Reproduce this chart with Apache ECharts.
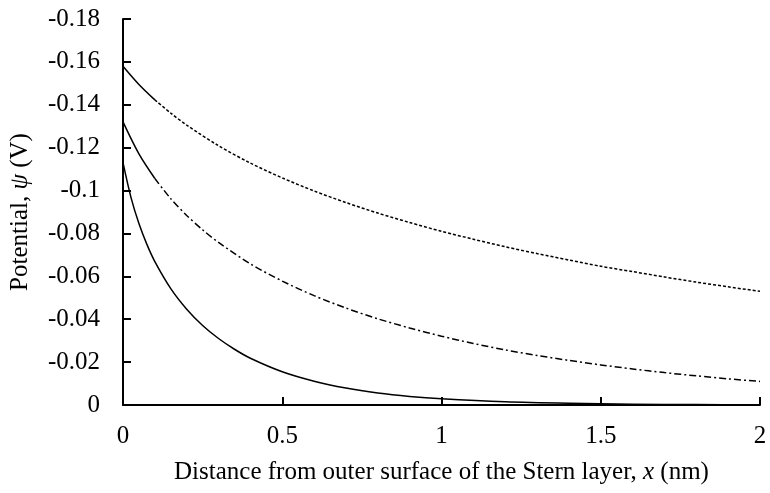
<!DOCTYPE html>
<html>
<head>
<meta charset="utf-8">
<script src="https://cdn.jsdelivr.net/npm/echarts@6/dist/echarts.min.js"></script>
<style>
  html, body { margin: 0; padding: 0; background: #fff; }
  #chart { width: 770px; height: 493px; }
</style>
</head>
<body>
<div id="chart"></div>
<script>
// Distance from the outer surface of the Stern layer (nm)
const xTop = [0, 0.05, 0.1, 0.15, 0.2, 0.3, 0.4, 0.5, 0.6, 0.7, 0.8, 0.9, 1.0, 1.1, 1.2, 1.3, 1.4, 1.5, 1.6, 1.7, 1.8, 1.9, 2.0];
// Potential (V), highest surface potential
const psiTop = [-0.158, -0.1495, -0.1423, -0.1361, -0.1305, -0.1209, -0.1128, -0.1059, -0.0998, -0.0944, -0.0895, -0.0851, -0.0810, -0.0773, -0.0738, -0.0706, -0.0676, -0.0647, -0.0622, -0.0597, -0.0573, -0.0551, -0.0530];

const xMid = [0, 0.05, 0.1, 0.15, 0.2, 0.25, 0.3, 0.4, 0.5, 0.6, 0.7, 0.8, 0.9, 1.0, 1.1, 1.2, 1.3, 1.4, 1.5, 1.6, 1.7, 1.8, 1.9, 2.0];
// Potential (V), intermediate surface potential
const psiMid = [-0.132, -0.1171, -0.1056, -0.0962, -0.0884, -0.0817, -0.0758, -0.0658, -0.0578, -0.0510, -0.0452, -0.0402, -0.0359, -0.0321, -0.0287, -0.0257, -0.0231, -0.0208, -0.0187, -0.0168, -0.0151, -0.0136, -0.0122, -0.0110];

const xLow = [0, 0.025, 0.05, 0.075, 0.1, 0.15, 0.2, 0.25, 0.3, 0.35, 0.4, 0.5, 0.6, 0.7, 0.8, 0.9, 1.0, 1.2, 1.4, 1.6, 1.8, 2.0];
// Potential (V), lowest surface potential
const psiLow = [-0.113, -0.0968, -0.0846, -0.0749, -0.0669, -0.0543, -0.0447, -0.0371, -0.0310, -0.0260, -0.0218, -0.0155, -0.0111, -0.0079, -0.0056, -0.0040, -0.0029, -0.0015, -0.0008, -0.0004, -0.0002, -0.0001];

const xTicks = [0, 0.5, 1, 1.5, 2];
const yTicks = [0, -0.02, -0.04, -0.06, -0.08, -0.1, -0.12, -0.14, -0.16, -0.18];

const FONT = '"Liberation Serif", "Times New Roman", serif';
const FS = 25;

function pairs(xs, ys) { return xs.map((x, i) => [x, ys[i]]); }
// The curves are drawn solid close to the surface, patterned further out.
function head(xs, ys, xEnd) { return pairs(xs, ys).filter(p => p[0] <= xEnd); }
function tail(xs, ys, xStart) { return pairs(xs, ys).filter(p => p[0] >= xStart); }

const lineBase = { type: 'line', showSymbol: false, symbol: 'none', smooth: 0.3, animation: false, silent: true };

const chart = echarts.init(document.getElementById('chart'), null, { renderer: 'canvas' });
chart.setOption({
  backgroundColor: '#ffffff',
  grid: { left: 123, right: 10, top: 19, bottom: 88, containLabel: false },
  xAxis: {
    type: 'value',
    min: xTicks[0], max: xTicks[xTicks.length - 1], interval: 0.5,
    name: 'Distance from outer surface of the Stern layer, {i|x} (nm)',
    nameLocation: 'middle', nameGap: 55,
    nameTextStyle: {
      fontFamily: FONT, fontSize: FS, color: '#000',
      rich: { i: { fontFamily: FONT, fontSize: FS, fontStyle: 'italic', color: '#000' } }
    },
    axisLine: { show: true, onZero: false, lineStyle: { color: '#000', width: 2 } },
    axisTick: { show: true, inside: true, length: 8, lineStyle: { color: '#000', width: 2 } },
    axisLabel: { fontFamily: FONT, fontSize: FS, color: '#000', margin: 19 },
    splitLine: { show: false }
  },
  yAxis: {
    type: 'value',
    inverse: true,
    min: yTicks[yTicks.length - 1], max: yTicks[0], interval: 0.02,
    name: 'Potential, {i|ψ} (V)',
    nameLocation: 'middle', nameGap: 90, nameRotate: 90,
    nameTextStyle: {
      fontFamily: FONT, fontSize: FS, color: '#000',
      rich: { i: { fontFamily: FONT, fontSize: FS, fontStyle: 'italic', color: '#000' } }
    },
    axisLine: { show: true, onZero: false, lineStyle: { color: '#000', width: 2 } },
    axisTick: { show: true, inside: true, length: 8, lineStyle: { color: '#000', width: 2 } },
    axisLabel: {
      fontFamily: FONT, fontSize: FS, color: '#000', margin: 23,
      formatter: v => (Math.abs(v) < 1e-9 ? '0' : String(Math.round(v * 100) / 100))
    },
    splitLine: { show: false }
  },
  series: [
    Object.assign({}, lineBase, { data: head(xTop, psiTop, 0.1), lineStyle: { color: '#000', width: 1.5, type: 'solid' } }),
    Object.assign({}, lineBase, { data: tail(xTop, psiTop, 0.1), lineStyle: { color: '#000', width: 1.5, type: [3, 2] } }),
    Object.assign({}, lineBase, { data: head(xMid, psiMid, 0.1), lineStyle: { color: '#000', width: 1.5, type: 'solid' } }),
    Object.assign({}, lineBase, { data: tail(xMid, psiMid, 0.1), lineStyle: { color: '#000', width: 1.5, type: [7, 3, 2, 3] } }),
    Object.assign({}, lineBase, { data: pairs(xLow, psiLow), lineStyle: { color: '#000', width: 1.5, type: 'solid' } })
  ]
});
</script>
</body>
</html>
